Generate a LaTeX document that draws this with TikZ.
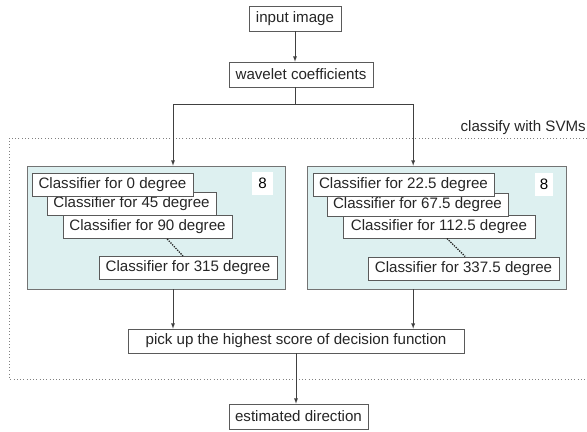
\documentclass[tikz,border=0pt]{standalone}
\usepackage{fontspec}
\setmainfont{Liberation Sans}
\usepackage{tikz}
\usetikzlibrary{shapes,arrows,positioning}
\definecolor{panelcyan}{RGB}{221,240,240}
\definecolor{edgegray}{RGB}{90,90,90}
\tikzstyle{box} = [rectangle, draw=edgegray, fill=white, line width=0.55pt, inner sep=2pt, minimum height=0.75cm, text=black!85]
\tikzstyle{clf} = [box, minimum height=0.7cm]
\tikzstyle{panel} = [rectangle, draw=edgegray!85, line width=0.55pt, fill=panelcyan, inner sep=0pt]
\tikzstyle{count} = [rectangle, draw=none, fill=white, inner sep=0pt, minimum height=0.7cm]
\tikzstyle{arr} = [draw=black!75, line width=0.55pt, -latex]

\begin{document}
\begin{tikzpicture}[x=0.03cm, y=-0.03cm, font=\fontsize{12.9}{14}\selectfont]
\useasboundingbox (0,0) rectangle (587,432);
\node[box, minimum width=2.76cm] (input) at (295,18.5) {input image};
\node[box, minimum width=4.32cm] (wavelet) at (301,74.5) {wavelet coefficients};
\coordinate (fork) at (295,104);
% frame of the svm stage, open to the right
\draw[black!50, dotted, thick] (600,138) -| (9,379) -- (600,379);
\node[anchor=base east, text=black!85, inner sep=0pt] (svmlabel) at (586,132) {classify with SVMs};
\node[panel, minimum width=7.74cm, minimum height=3.69cm] (panelL) at (156,227.5) {};
\node[panel, minimum width=7.77cm, minimum height=3.69cm] (panelR) at (436.5,227.5) {};
% classifiers, the later one lies under the earlier one
\node[clf, minimum width=5.34cm] (c315) at (188,268) {Classifier for 315 degree};
\node[clf, minimum width=5.07cm] (c90) at (147.5,227) {Classifier for 90 degree};
\node[clf, minimum width=5.07cm] (c45) at (131.5,203.5) {Classifier for 45 degree};
\node[clf, minimum width=4.83cm] (c0) at (112.5,184.5) {Classifier for 0 degree};
\node[count, minimum width=0.63cm] (eightL) at (262.5,183.5) {8};
\node[clf, minimum width=5.73cm] (c337) at (463.5,268.5) {Classifier for 337.5 degree};
\node[clf, minimum width=5.76cm] (c112) at (439,226.5) {Classifier for 112.5 degree};
\node[clf, minimum width=5.43cm] (c67) at (417.5,204.5) {Classifier for 67.5 degree};
\node[clf, minimum width=5.43cm] (c22) at (403.5,184.5) {Classifier for 22.5 degree};
\node[count, minimum width=0.54cm] (eightR) at (544,184.5) {8};
\draw[black!85, densely dotted, line width=1.1pt] ([xshift=0.59cm]c90.south) -- ([xshift=-0.15cm]c315.north);
\draw[black!85, densely dotted, line width=1.1pt] ([xshift=0.24cm]c112.south) -- ([xshift=0.05cm]c337.north);
\node[box, minimum width=10.08cm, minimum height=0.72cm] (pick) at (296,341) {pick up the highest score of decision function};
\node[box, minimum width=4.17cm] (estim) at (298.5,416.5) {estimated direction};

\draw[arr] (input) -- (input.south |- wavelet.north);
\draw[black!75, line width=0.55pt] (wavelet.south -| fork) -- (fork);
\draw[arr] (fork) -| ([xshift=0.51cm]panelL.north);
\draw[arr] (fork) -| ([xshift=-0.7cm]panelR.north);
\draw[arr] ([xshift=0.51cm]panelL.south) -- ([xshift=0.51cm]panelL.south |- pick.north);
\draw[arr] ([xshift=-0.7cm]panelR.south) -- ([xshift=-0.7cm]panelR.south |- pick.north);
\draw[arr] (pick.south) -- (pick.south |- estim.north);
\end{tikzpicture}
\end{document}
